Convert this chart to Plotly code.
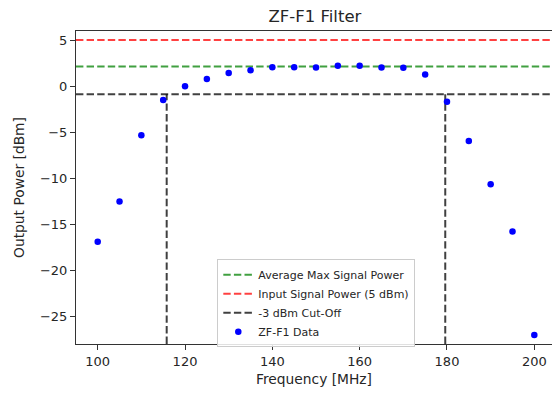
import plotly.graph_objects as go

# ---- data ----
freq_mhz = [100, 105, 110, 115, 120, 125, 130, 135, 140, 145, 150,
            155, 160, 165, 170, 175, 180, 185, 190, 195, 200]
power_dbm = [-16.89, -12.50, -5.32, -1.51, -0.02, 0.77, 1.43, 1.72, 2.05, 2.05, 2.02,
             2.22, 2.22, 2.02, 2.00, 1.26, -1.70, -5.94, -10.65, -15.77, -27.0]
avg_max_power = 2.12
input_power = 5.0
cutoff_power = avg_max_power - 3.0
cutoff_freqs = [115.8, 179.6]

x_range = [95.03, 204.05]
y_range = [-27.97, 5.98]

x_ticks = [100, 120, 140, 160, 180, 200]
y_ticks = [5, 0, -5, -10, -15, -20, -25]
y_ticktext = [str(v).replace("-", "\u2212") for v in y_ticks]

FONT = "DejaVu Sans"
GREEN = "rgba(0,128,0,0.75)"
RED = "rgba(255,0,0,0.75)"
BLACK = "rgba(0,0,0,0.75)"
DASH = "7.4px,3.2px"

fig = go.Figure()

fig.add_trace(go.Scatter(
    x=x_range, y=[avg_max_power, avg_max_power], mode="lines",
    line=dict(color=GREEN, width=2, dash=DASH),
    name="Average Max Signal Power"))
fig.add_trace(go.Scatter(
    x=x_range, y=[input_power, input_power], mode="lines",
    line=dict(color=RED, width=2, dash=DASH),
    name="Input Signal Power (5 dBm)"))
fig.add_trace(go.Scatter(
    x=x_range, y=[cutoff_power, cutoff_power], mode="lines",
    line=dict(color=BLACK, width=2, dash=DASH),
    name="-3 dBm Cut-Off", legendgroup="cut"))
for fc in cutoff_freqs:
    fig.add_trace(go.Scatter(
        x=[fc, fc], y=[y_range[0], cutoff_power], mode="lines",
        line=dict(color=BLACK, width=2, dash=DASH),
        showlegend=False, legendgroup="cut", hoverinfo="skip"))
fig.add_trace(go.Scatter(
    x=freq_mhz, y=power_dbm, mode="markers",
    marker=dict(color="#0000ff", size=6.5, symbol="circle"),
    name="ZF-F1 Data"))

axis_common = dict(
    showgrid=False, zeroline=False, showline=True,
    linecolor="#333333", linewidth=1,
    ticks="outside", ticklen=5, tickwidth=1, tickcolor="#333333",
    tickfont=dict(family=FONT, size=13, color="#262626"),
)

fig.update_layout(
    width=552, height=394,
    margin=dict(l=76, r=0, t=31, b=50),
    paper_bgcolor="white", plot_bgcolor="white",
    font=dict(family=FONT, color="#262626"),
    title=dict(text="ZF-F1 Filter", x=0.502, xref="paper",
               y=1 - 16 / 394, yref="container", xanchor="center", yanchor="middle",
               font=dict(family=FONT, size=16.5, color="#262626")),
    xaxis=dict(range=x_range, tickvals=x_ticks, mirror=True,
               title=dict(text="Frequency [MHz]", standoff=6,
                          font=dict(family=FONT, size=13.8)),
               **axis_common),
    yaxis=dict(range=y_range, tickvals=y_ticks, ticktext=y_ticktext,
               title=dict(text="Output Power [dBm]", standoff=12,
                          font=dict(family=FONT, size=13.8)),
               **axis_common),
    legend=dict(x=(217.3 - 76) / 476, y=(344 - 259.3) / 313,
                xanchor="left", yanchor="top",
                bgcolor="rgba(255,255,255,0.85)", bordercolor="#cccccc", borderwidth=1,
                font=dict(family=FONT, size=11, color="#262626"),
                itemwidth=30, tracegroupgap=0),
    showlegend=True,
)

fig.write_html("out.html")
